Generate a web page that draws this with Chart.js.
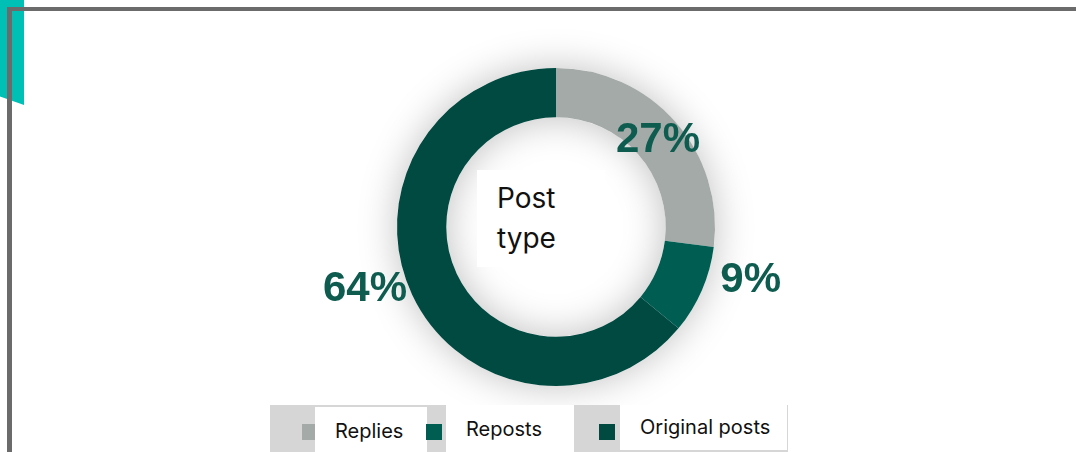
<!DOCTYPE html>
<html>
<head>
<meta charset="utf-8">
<script src="https://cdn.jsdelivr.net/npm/chart.js@4.4.1/dist/chart.umd.min.js"></script>
<style>
  body { margin: 0; background: #fff; }
  #wrap { position: relative; width: 1076px; height: 452px; overflow: hidden; font-family: Inter, "Noto Sans", sans-serif; }
  #postChart { position: absolute; left: 0; top: 0; }
  .tab { position: absolute; left: 0; top: 0; width: 24px; height: 105px; background: #00bfb5;
         clip-path: polygon(0 0, 100% 0, 100% 100%, 0 92%); }
  .lineTop { position: absolute; left: 7px; top: 7px; width: 1069px; height: 4px; background: #6b6b6b; }
  .lineLeft { position: absolute; left: 7px; top: 7px; width: 5px; height: 445px; background: #6b6b6b; }
  .center { position: absolute; left: 477px; top: 170px; width: 128px; height: 97px; background: #fff;
            font-size: 28px; line-height: 40px; color: #111; box-sizing: border-box; padding: 8px 0 0 20px; }
  #legend { position: absolute; left: 270px; top: 405px; width: 518px; height: 47px; background: #d6d6d6; }
  #legend .sq { position: absolute; top: 19px; width: 16px; height: 16px; }
  #legend .lbl { position: absolute; background: #fff; font-size: 20px; color: #111; white-space: nowrap; }
  #legend .i0 .sq { left: 32px; }
  #legend .i0 .lbl { left: 45px; top: 2px; width: 112px; height: 45px; line-height: 48px; padding-left: 20px; box-sizing: border-box; }
  #legend .i1 .sq { left: 156px; }
  #legend .i1 .lbl { left: 176px; top: 0; width: 128px; height: 47px; line-height: 48px; padding-left: 20px; box-sizing: border-box; }
  #legend .i2 .sq { left: 329px; }
  #legend .i2 .lbl { left: 350px; top: 0; width: 167px; height: 45px; line-height: 44px; padding-left: 20px; box-sizing: border-box; }
</style>
</head>
<body>
<div id="wrap">
  <canvas id="postChart" width="1076" height="452"></canvas>
  <div class="tab"></div>
  <div class="lineTop"></div>
  <div class="lineLeft"></div>
  <div class="center">Post<br>type</div>
  <div id="legend"></div>
</div>
<script>
const categories = ['Replies', 'Reposts', 'Original posts'];
const shares = [27, 9, 64];
const sliceColors = ['#a3aaa7', '#005d52', '#004a42'];

// label placement: radius from centre and angle nudge (degrees)
const labelRadius = [136, 201, 200];
const labelNudge = [0, -9, 8];

// soft shadow under the ring
const ringShadow = {
    id: 'ringShadow',
    beforeDatasetsDraw(chart) {
        const arc = chart.getDatasetMeta(0).data[0];
        if (!arc) return;
        const ctx = chart.ctx;
        ctx.save();
        ctx.beginPath();
        ctx.arc(arc.x, arc.y, arc.outerRadius, 0, Math.PI * 2);
        ctx.arc(arc.x, arc.y, arc.innerRadius, 0, Math.PI * 2, true);
        ctx.closePath();
        ctx.shadowColor = 'rgba(0, 0, 0, 0.25)';
        ctx.shadowBlur = 38;
        ctx.fillStyle = '#ffffff';
        ctx.fill();
        ctx.restore();
    }
};

const pctLabels = {
    id: 'pctLabels',
    afterDatasetsDraw(chart) {
        const ctx = chart.ctx;
        ctx.save();
        ctx.font = 'bold 42px "Liberation Sans", Arial, sans-serif';
        ctx.fillStyle = '#0d5c4f';
        ctx.textAlign = 'center';
        ctx.textBaseline = 'middle';
        chart.getDatasetMeta(0).data.forEach((arc, i) => {
            const mid = (arc.startAngle + arc.endAngle) / 2 + labelNudge[i] * Math.PI / 180;
            const x = arc.x + Math.cos(mid) * labelRadius[i];
            const y = arc.y + Math.sin(mid) * labelRadius[i];
            ctx.fillText(shares[i] + '%', x, y + 3);
        });
        ctx.restore();
    }
};

const postCtx = document.getElementById('postChart').getContext('2d');
const postChart = new Chart(postCtx, {
    type: 'doughnut',
    data: {
        labels: categories,
        datasets: [{
            data: shares,
            backgroundColor: sliceColors,
            borderWidth: 0
        }]
    },
    options: {
        responsive: false,
        animation: false,
        cutout: '69%',
        layout: { padding: { left: 397, right: 361, top: 68, bottom: 66 } },
        plugins: {
            legend: { display: false },
            tooltip: { enabled: false }
        }
    },
    plugins: [ringShadow, pctLabels]
});

// legend built from the chart's own data
const legendBox = document.getElementById('legend');
postChart.data.labels.forEach((name, i) => {
    const item = document.createElement('div');
    item.className = 'i' + i;
    const sq = document.createElement('div');
    sq.className = 'sq';
    sq.style.background = postChart.data.datasets[0].backgroundColor[i];
    const lbl = document.createElement('div');
    lbl.className = 'lbl';
    lbl.textContent = name;
    item.appendChild(sq);
    item.appendChild(lbl);
    legendBox.appendChild(item);
});
</script>
</body>
</html>
